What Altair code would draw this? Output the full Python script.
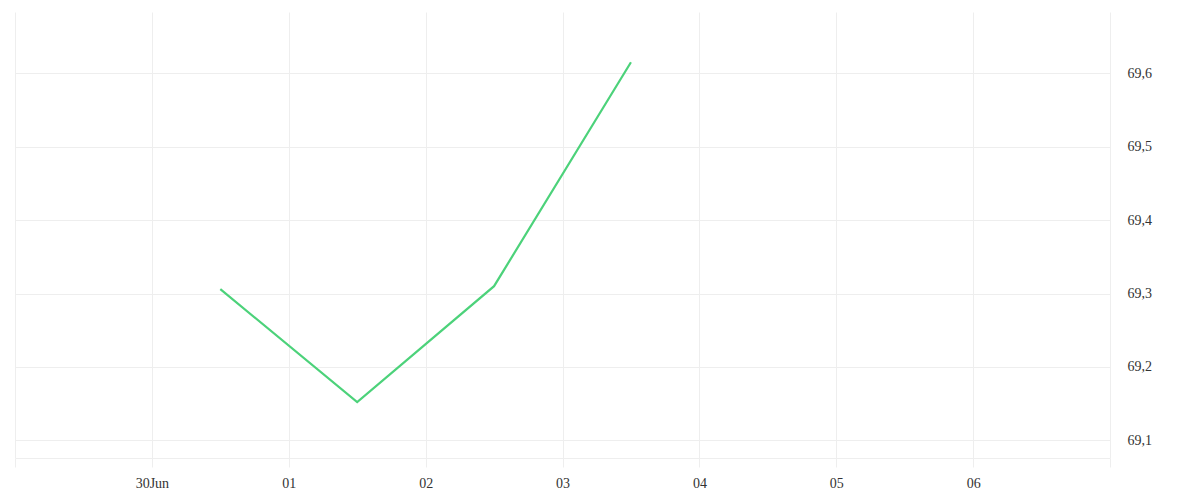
import altair as alt
import pandas as pd

# Data
dates = ["2024-06-30T12:00:00Z", "2024-07-01T12:00:00Z", "2024-07-02T12:00:00Z", "2024-07-03T12:00:00Z"]
values = [69.306, 69.152, 69.310, 69.615]

# Tick positions (daily, UTC) and their labels ('' = hidden at the edges)
tick_days = [(2024, 6, 29), (2024, 6, 30), (2024, 7, 1), (2024, 7, 2), (2024, 7, 3),
             (2024, 7, 4), (2024, 7, 5), (2024, 7, 6), (2024, 7, 7)]
tick_labels = ["", "30Jun", "01", "02", "03", "04", "05", "06", ""]
y_ticks = [69.1, 69.2, 69.3, 69.4, 69.5, 69.6]

df = pd.DataFrame({"date": dates, "value": values})

tick_vals = [alt.DateTime(year=y, month=m, date=d, utc=True) for (y, m, d) in tick_days]
label_map = "{" + ",".join(
    f"'{y}-{m:02d}-{d:02d}':'{lab}'" for (y, m, d), lab in zip(tick_days, tick_labels)
) + "}"
x_label_expr = f"{label_map}[utcFormat(datum.value, '%Y-%m-%d')] || ''"

GRID = "#eeeeee"
FONT = "Liberation Serif"

chart = (
    alt.Chart(df)
    .mark_line(color="#4cd27a", strokeWidth=2.2)
    .encode(
        x=alt.X(
            "date:T",
            scale=alt.Scale(type="utc", domain=[tick_vals[0], tick_vals[-1]], nice=False),
            axis=alt.Axis(
                title=None, values=tick_vals, labelExpr=x_label_expr,
                grid=True, gridColor=GRID, gridWidth=1,
                domain=True, domainColor=GRID, domainWidth=1,
                ticks=True, tickColor=GRID, tickSize=9, labelPadding=9,
                labelFont=FONT, labelFontSize=14, labelColor="#333333",
                labelBound=False, labelOverlap=False,
            ),
        ),
        y=alt.Y(
            "value:Q",
            scale=alt.Scale(domain=[69.0759, 69.6835], nice=False, zero=False),
            axis=alt.Axis(
                title=None, orient="right", values=y_ticks,
                labelExpr="replace(format(datum.value, '.1f'), '.', ',')",
                grid=True, gridColor=GRID, gridWidth=1,
                domain=False, ticks=False,
                labelPadding=17, labelFont=FONT, labelFontSize=14,
                labelColor="#333333", labelBaseline="middle",
            ),
        ),
    )
    .properties(
        width=1095, height=446,
        background="white",
        autosize=alt.AutoSizeParams(type="none"),
        padding={"left": 7, "top": 4, "right": 60, "bottom": 40},
    )
    .configure_view(stroke=None, strokeWidth=0)
)

chart.save("out.html", embed_options={"renderer": "svg", "actions": False})
